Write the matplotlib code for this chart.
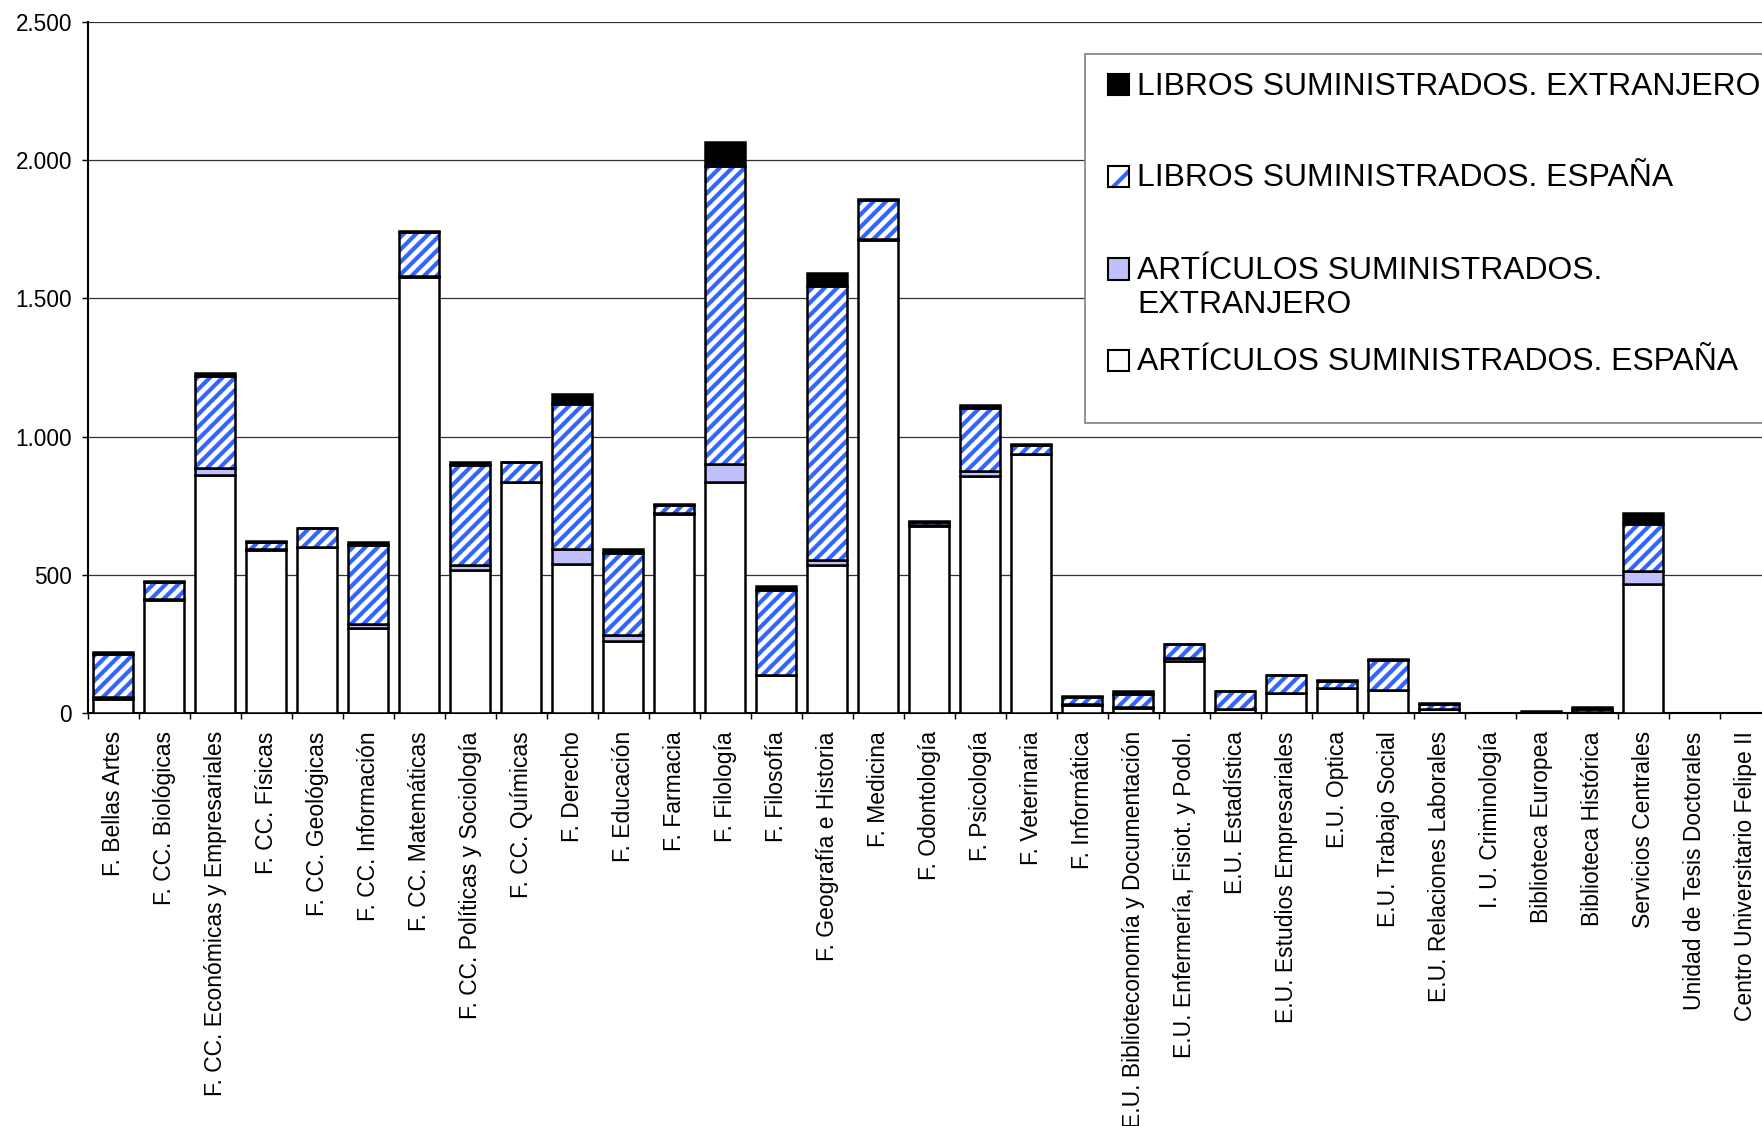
import numpy as np
import matplotlib
matplotlib.use('Agg')
from matplotlib import pyplot as plt
from matplotlib.patches import Rectangle
from matplotlib.ticker import FuncFormatter

plt.rcParams['font.family'] = ['Liberation Sans', 'DejaVu Sans']
plt.rcParams['hatch.linewidth'] = 2.0

centros = ['F. Bellas Artes', 'F. CC. Biológicas', 'F. CC. Económicas y Empresariales',
           'F. CC. Físicas', 'F. CC. Geológicas', 'F. CC. Información', 'F. CC. Matemáticas',
           'F. CC. Políticas y Sociología', 'F. CC. Químicas', 'F. Derecho', 'F. Educación',
           'F. Farmacia', 'F. Filología', 'F. Filosofía', 'F. Geografía e Historia',
           'F. Medicina', 'F. Odontología', 'F. Psicología', 'F. Veterinaria', 'F. Informática',
           'E.U. Biblioteconomía y Documentación', 'E.U. Enfermería, Fisiot. y Podol.',
           'E.U. Estadística', 'E.U. Estudios Empresariales', 'E.U. Optica',
           'E.U. Trabajo Social', 'E.U. Relaciones Laborales', 'I. U. Criminología',
           'Biblioteca Europea', 'Biblioteca Histórica', 'Servicios Centrales',
           'Unidad de Tesis Doctorales', 'Centro Universitario Felipe II']

art_espana = [52, 410, 861, 590, 600, 310, 1578, 517, 836, 541, 261, 722, 837, 138, 536, 1710,
              678, 859, 937, 31, 18, 190, 15, 72, 90, 85, 15, 0, 0, 4, 466, 0, 0]
art_extranjero = [6, 3, 25, 3, 1, 13, 2, 18, 1, 52, 22, 3, 64, 2, 17, 6,
                  2, 16, 2, 1, 5, 10, 2, 2, 2, 1, 1, 0, 0, 0, 47, 0, 0]
lib_espana = [158, 62, 334, 28, 68, 286, 160, 363, 70, 526, 296, 28, 1078, 307, 990, 140,
              12, 228, 30, 27, 46, 49, 63, 64, 26, 107, 18, 0, 0, 12, 173, 0, 0]
lib_extranjero = [4, 3, 10, 3, 2, 12, 3, 9, 2, 35, 15, 3, 85, 14, 50, 3,
                  2, 10, 3, 2, 10, 3, 2, 2, 3, 2, 3, 0, 8, 6, 37, 0, 0]

series_names = ['LIBROS SUMINISTRADOS. EXTRANJERO', 'LIBROS SUMINISTRADOS. ESPAÑA',
                'ARTÍCULOS SUMINISTRADOS.\nEXTRANJERO', 'ARTÍCULOS SUMINISTRADOS. ESPAÑA']

BLUE = '#3366ff'
LAV = '#c0c0ff'
W, H, DPI = 1762, 1126, 150

fig = plt.figure(figsize=(W / DPI, H / DPI), dpi=DPI)
ax = fig.add_axes([0.0497, 0.3665, 0.9552, 0.6143])

x = np.arange(len(centros))
a1 = np.array(art_espana)
a2 = np.array(art_extranjero)
a3 = np.array(lib_espana)
a4 = np.array(lib_extranjero)
bw = 0.78
elw = 1.2

ax.bar(x, a1, width=bw, color='white', edgecolor='black', lw=elw, zorder=3)
ax.bar(x, a2, width=bw, bottom=a1, color=LAV, edgecolor='black', lw=elw, zorder=3)
# hatched segment: hatch first, black outline on top
ax.bar(x, a3, width=bw, bottom=a1 + a2, color='white', edgecolor=BLUE, hatch='////', lw=0, zorder=3)
ax.bar(x, a3, width=bw, bottom=a1 + a2, color='none', edgecolor='black', lw=elw, zorder=3)
ax.bar(x, a4, width=bw, bottom=a1 + a2 + a3, color='black', edgecolor='black', lw=elw, zorder=3)

ax.set_xlim(-0.5, len(centros) - 0.5)
ax.set_ylim(0, 2500)
ax.set_yticks(np.arange(0, 2501, 500))
ax.yaxis.set_major_formatter(FuncFormatter(lambda v, p: f'{int(v):,}'.replace(',', '.')))
ax.yaxis.grid(True, color='#333333', lw=0.6)
ax.set_axisbelow(True)

ax.set_xticks(x)
ax.set_xticklabels(centros, rotation=90, fontsize=11)
ax.set_xticks(np.arange(len(centros) + 1) - 0.5, minor=True)
ax.tick_params(axis='x', which='major', length=0, pad=8.6)
ax.tick_params(axis='x', which='minor', length=3, width=0.7, direction='out')
ax.tick_params(axis='y', length=3, width=0.7, direction='out', pad=4.5, labelsize=10.8)

for s in ['top', 'right']:
    ax.spines[s].set_visible(False)
for s in ['left', 'bottom']:
    ax.spines[s].set_color('black')
    ax.spines[s].set_linewidth(1.0)

# legend box (Excel style, runs off the right edge)
def fx(px):
    return px / W

def fy(py):
    return 1 - py / H

fig.add_artist(Rectangle((fx(1085), fy(423)), 0.5, fy(54) - fy(423), transform=fig.transFigure,
                         facecolor='white', edgecolor='#808080', lw=0.8, zorder=5))

row_y = [84, 176, 269, 360]
base_y = [95, 186, 313, 370]   # multi-line label is placed by its last line
sq = 21
styles = [dict(facecolor='black'), dict(facecolor='white', hatch='/'),
          dict(facecolor=LAV), dict(facecolor='white')]
for name, ry, by, st in zip(series_names, row_y, base_y, styles):
    if 'hatch' in st:
        fig.add_artist(Rectangle((fx(1108), fy(ry + sq / 2)), fx(sq), fy(ry - sq / 2) - fy(ry + sq / 2),
                                 transform=fig.transFigure, facecolor='white', edgecolor=BLUE,
                                 hatch='/', lw=0, zorder=6))
        st = dict(facecolor='none')
    fig.add_artist(Rectangle((fx(1108), fy(ry + sq / 2)), fx(sq), fy(ry - sq / 2) - fy(ry + sq / 2),
                             transform=fig.transFigure, edgecolor='black', lw=1.0, zorder=6, **st))
    fig.text(fx(1137), fy(by), name, fontsize=15.3, va='baseline', ha='left', zorder=7,
             linespacing=1.17)

fig.savefig('out.png', dpi=DPI)
